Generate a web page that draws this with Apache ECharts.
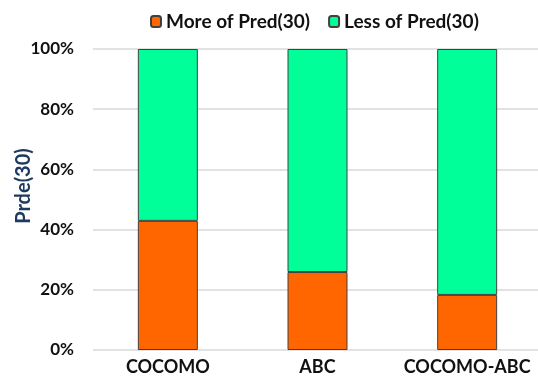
<!DOCTYPE html>
<html><head><meta charset="utf-8">
<script src="https://cdn.jsdelivr.net/npm/echarts@6/dist/echarts.min.js"></script>
<style>html,body{margin:0;padding:0;background:#fff}#c{width:538px;height:377px}</style>
</head><body><div id="c"></div>
<script>
const categories = ['COCOMO', 'ABC', 'COCOMO-ABC'];
const moreOfPred = [42.9, 25.9, 18.3];
const lessOfPred = [57.1, 74.1, 81.7];
const seriesNames = ['More of Pred(30)', 'Less of Pred(30)'];
const yAxisName = 'Prde(30)';

const chart = echarts.init(document.getElementById('c'));
const font = 'Lato, "Open Sans", sans-serif';
chart.setOption({
  animation: false,
  legend: {
    top: 7, left: 145,
    itemWidth: 10, itemHeight: 11, itemGap: 18,
    textStyle: { fontFamily: font, fontWeight: 'bold', fontSize: 19, color: '#111' },
    data: seriesNames
  },
  graphic: [{
    type: 'text', x: 24, y: 186, rotation: Math.PI / 2,
    style: { text: yAxisName, fontFamily: font, fontWeight: 'bold', fontSize: 20, fill: '#1f3a60',
             align: 'center', verticalAlign: 'middle' }
  }],
  grid: { left: 93, top: 49, width: 449, height: 301, outerBoundsMode: 'none', containLabel: false },
  xAxis: {
    type: 'category', data: categories,
    axisLine: { show: false }, axisTick: { show: false },
    axisLabel: { interval: 0, fontFamily: font, fontWeight: 'bold', fontSize: 18, color: '#111', margin: 8 }
  },
  yAxis: {
    type: 'value', min: 0, max: 100, interval: 20,
    axisLabel: { formatter: '{value}%', fontFamily: font, fontWeight: 'bold', fontSize: 17, color: '#111', margin: 19 },
    splitLine: { lineStyle: { color: '#d9d9d9', width: 1.5 } },
    axisLine: { show: false }, axisTick: { show: false }
  },
  series: [
    { name: seriesNames[0], type: 'bar', stack: 's', data: moreOfPred, barWidth: 60,
      itemStyle: { color: '#FF6600', borderColor: '#404040', borderWidth: 1 } },
    { name: seriesNames[1], type: 'bar', stack: 's', data: lessOfPred, barWidth: 60,
      itemStyle: { color: '#00FF99', borderColor: '#404040', borderWidth: 1 } }
  ]
});
</script></body></html>
